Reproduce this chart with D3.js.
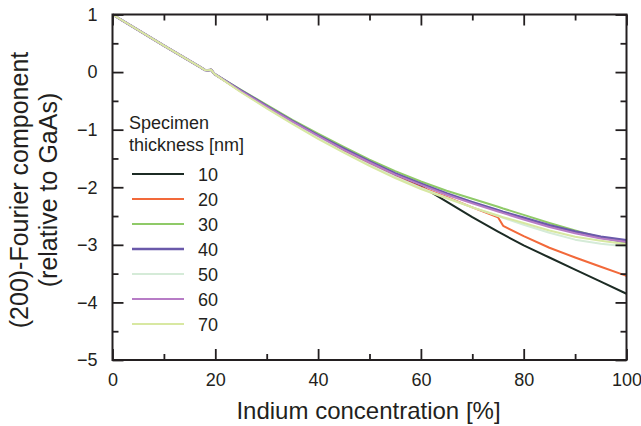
<!DOCTYPE html>
<html>
<head>
<meta charset="utf-8">
<script src="https://cdn.jsdelivr.net/npm/d3@7"></script>
<style>
  body { margin: 0; background: #fff; }
  text { font-family: "Liberation Sans", Arial, sans-serif; fill: #231f20; }
</style>
</head>
<body>
<svg id="chart" width="641" height="426"></svg>
<script>
// indium concentration [%] sample points (shared by all curves)
var concentration = [0, 10, 17, 18, 18.6, 19.2, 19.8, 25, 30, 35, 40, 45, 50, 55, 60, 65, 70, 75, 76, 80, 85, 90, 95, 100];

// (200)-Fourier component relative to GaAs, one array per specimen thickness
var fc10 = [1, 0.46, 0.09, 0.035, 0.03, 0.04, -0.03, -0.33, -0.6, -0.87, -1.12, -1.36, -1.58, -1.79, -1.98, -2.25, -2.52, -2.77, -2.82, -3.01, -3.22, -3.43, -3.64, -3.85];
var fc20 = [1, 0.46, 0.09, 0.035, 0.03, 0.04, -0.03, -0.34, -0.61, -0.88, -1.13, -1.38, -1.6, -1.81, -2.0, -2.17, -2.35, -2.52, -2.67, -2.85, -3.05, -3.22, -3.38, -3.54];
var fc30 = [1, 0.46, 0.09, 0.035, 0.03, 0.04, -0.03, -0.31, -0.57, -0.83, -1.07, -1.3, -1.52, -1.72, -1.9, -2.06, -2.2, -2.34, -2.37, -2.48, -2.62, -2.75, -2.87, -2.97];
var fc40 = [1, 0.46, 0.09, 0.035, 0.03, 0.04, -0.03, -0.32, -0.59, -0.85, -1.1, -1.33, -1.55, -1.76, -1.94, -2.11, -2.26, -2.4, -2.43, -2.53, -2.66, -2.77, -2.86, -2.92];
var fc50 = [1, 0.46, 0.09, 0.035, 0.03, 0.04, -0.03, -0.34, -0.62, -0.89, -1.14, -1.39, -1.61, -1.82, -2.01, -2.18, -2.35, -2.5, -2.53, -2.65, -2.79, -2.91, -2.98, -3.03];
var fc60 = [1, 0.46, 0.09, 0.035, 0.03, 0.04, -0.03, -0.33, -0.6, -0.86, -1.11, -1.35, -1.57, -1.78, -1.96, -2.13, -2.28, -2.42, -2.45, -2.56, -2.69, -2.8, -2.89, -2.95];
var fc70 = [1, 0.46, 0.09, 0.035, 0.03, 0.04, -0.03, -0.35, -0.63, -0.9, -1.16, -1.4, -1.63, -1.84, -2.03, -2.19, -2.35, -2.49, -2.52, -2.62, -2.75, -2.86, -2.93, -2.99];

var thickness = [10, 20, 30, 40, 50, 60, 70];
var seriesValues = [fc10, fc20, fc30, fc40, fc50, fc60, fc70];
var colors = ["#1c2b24", "#f2693a", "#8fca68", "#6a59aa", "#d5ebd8", "#b77cc6", "#d8e8a2"];
var widths = [2, 2, 2, 2.6, 2, 2, 2];

var xTicks = [0, 20, 40, 60, 80, 100];
var xMinor = [10, 30, 50, 70, 90];
var yTicks = [1, 0, -1, -2, -3, -4, -5];
var yMinor = [0.5, -0.5, -1.5, -2.5, -3.5, -4.5];

var plotLeft = 112.5, plotRight = 626.5, plotTop = 14.5, plotBottom = 360;

var svg = d3.select("#chart");

var x = d3.scaleLinear().domain([0, 100]).range([plotLeft, plotRight]);
var y = d3.scaleLinear().domain([-5, 1]).range([plotBottom, plotTop]);

// curves
var line = d3.line()
  .x(function(d, i) { return x(concentration[i]); })
  .y(function(d) { return y(d); });

svg.append("g").selectAll("path")
  .data(seriesValues)
  .enter()
  .append("path")
  .attr("d", line)
  .attr("fill", "none")
  .attr("stroke", function(d, i) { return colors[i]; })
  .attr("stroke-width", function(d, i) { return widths[i]; })
  .attr("stroke-linejoin", "round");

// axes: ticks point inward on all four sides
function styleAxis(g) {
  g.select(".domain").remove();
  g.selectAll("line").attr("stroke", "#231f20").attr("stroke-width", 1.8);
  g.selectAll("text").attr("font-size", "18px").attr("fill", "#231f20")
    .attr("font-family", "Liberation Sans, Arial, sans-serif");
}

svg.append("g")
  .attr("transform", "translate(0," + plotBottom + ")")
  .call(d3.axisBottom(x).tickValues(xTicks).tickSize(-11).tickPadding(13).tickFormat(d3.format("d")))
  .call(styleAxis);
svg.append("g")
  .attr("transform", "translate(0," + plotBottom + ")")
  .call(d3.axisBottom(x).tickValues(xMinor).tickSize(-6).tickFormat(""))
  .call(styleAxis);
svg.append("g")
  .attr("transform", "translate(0," + plotTop + ")")
  .call(d3.axisTop(x).tickValues(xTicks).tickSize(-11).tickFormat(""))
  .call(styleAxis);
svg.append("g")
  .attr("transform", "translate(0," + plotTop + ")")
  .call(d3.axisTop(x).tickValues(xMinor).tickSize(-6).tickFormat(""))
  .call(styleAxis);

svg.append("g")
  .attr("transform", "translate(" + plotLeft + ",0)")
  .call(d3.axisLeft(y).tickValues(yTicks).tickSize(-11).tickPadding(15).tickFormat(d3.format("d")))
  .call(styleAxis);
svg.append("g")
  .attr("transform", "translate(" + plotLeft + ",0)")
  .call(d3.axisLeft(y).tickValues(yMinor).tickSize(-6).tickFormat(""))
  .call(styleAxis);
svg.append("g")
  .attr("transform", "translate(" + plotRight + ",0)")
  .call(d3.axisRight(y).tickValues(yTicks).tickSize(-11).tickFormat(""))
  .call(styleAxis);
svg.append("g")
  .attr("transform", "translate(" + plotRight + ",0)")
  .call(d3.axisRight(y).tickValues(yMinor).tickSize(-6).tickFormat(""))
  .call(styleAxis);

// frame
svg.append("rect")
  .attr("x", plotLeft)
  .attr("y", plotTop)
  .attr("width", plotRight - plotLeft)
  .attr("height", plotBottom - plotTop)
  .attr("fill", "none")
  .attr("stroke", "#231f20")
  .attr("stroke-width", 2);

// axis titles
svg.append("text")
  .attr("x", (plotLeft + plotRight) / 2 - 1)
  .attr("y", 419)
  .attr("text-anchor", "middle")
  .attr("font-size", "24px")
  .text("Indium concentration [%]");

var yTitle = svg.append("text")
  .attr("transform", "translate(0," + 190 + ") rotate(-90)")
  .attr("text-anchor", "middle")
  .attr("font-size", "25px");
yTitle.append("tspan").attr("x", 0).attr("y", 28).text("(200)-Fourier component");
yTitle.append("tspan").attr("x", 0).attr("y", 57).text("(relative to GaAs)");

// legend
svg.append("text").attr("x", 129).attr("y", 129).attr("font-size", "18px").text("Specimen");
svg.append("text").attr("x", 129).attr("y", 151).attr("font-size", "18px").text("thickness [nm]");

var legend = svg.append("g").selectAll("g")
  .data(thickness)
  .enter()
  .append("g")
  .attr("transform", function(d, i) { return "translate(0," + (174 + i * 25) + ")"; });

legend.append("line")
  .attr("x1", 132)
  .attr("x2", 184)
  .attr("stroke", function(d, i) { return colors[i]; })
  .attr("stroke-width", function(d, i) { return widths[i]; });

legend.append("text")
  .attr("x", 198)
  .attr("y", 6.5)
  .attr("font-size", "18px")
  .text(function(d) { return d; });
</script>
</body>
</html>
